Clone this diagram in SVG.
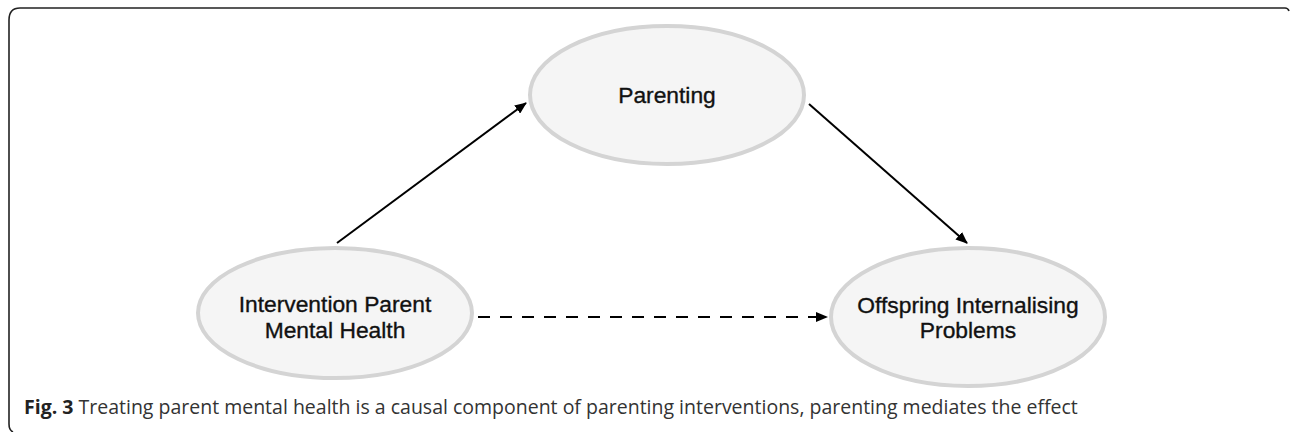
<svg xmlns="http://www.w3.org/2000/svg" width="1290" height="432" viewBox="0 0 1290 432">
  <style>
    .node ellipse { fill: #f5f5f5; stroke: #d4d4d4; stroke-width: 4; }
    .node text { font-family: "Liberation Sans", Arial, sans-serif; font-size: 22.8px; fill: #111; stroke: #111; stroke-width: 0.35; text-anchor: middle; }
    .edge { stroke: #000; stroke-width: 2; fill: none; }
    .dashed { stroke-dasharray: 12 10; }
    .caption { font-family: "Open Sans", "Noto Sans", sans-serif; font-size: 19.5px; fill: #333; }
    .frame { fill: none; stroke: #222; stroke-width: 1.6; }
  </style>
  <defs>
    <marker id="arrow" viewBox="0 0 12 10" refX="11" refY="5" markerWidth="12" markerHeight="10" markerUnits="userSpaceOnUse" orient="auto">
      <path d="M0,0 L12,5 L0,10 Z" fill="#000"/>
    </marker>
  </defs>

  <rect width="1290" height="432" fill="#fff"/>

  <!-- figure frame: top and left edges with rounded corners -->
  <path class="frame" d="M1289,11 Q1288,8 1285,8 L20,8 Q9,8 9,20 L9,424 Q9,430 13,432"/>

  <g id="connectors">
    <line class="edge" x1="337" y1="243" x2="526" y2="103" marker-end="url(#arrow)"/>
    <line class="edge" x1="809" y1="104" x2="967" y2="243" marker-end="url(#arrow)"/>
    <line class="edge dashed" x1="478" y1="317" x2="827" y2="317" marker-end="url(#arrow)"/>
  </g>

  <g id="node-parenting" class="node">
    <ellipse cx="667" cy="95" rx="137" ry="69"/>
    <text x="667" y="103">Parenting</text>
  </g>

  <g id="node-intervention" class="node">
    <ellipse cx="335" cy="313" rx="137" ry="65"/>
    <text x="335" y="312">Intervention Parent</text>
    <text x="335" y="338">Mental Health</text>
  </g>

  <g id="node-offspring" class="node">
    <ellipse cx="968" cy="317" rx="137" ry="69"/>
    <text x="968" y="313">Offspring Internalising</text>
    <text x="968" y="338">Problems</text>
  </g>

  <text class="caption" x="24" y="414"><tspan font-weight="bold" fill="#222">Fig. 3</tspan> Treating parent mental health is a causal component of parenting interventions, parenting mediates the effect</text>
</svg>
